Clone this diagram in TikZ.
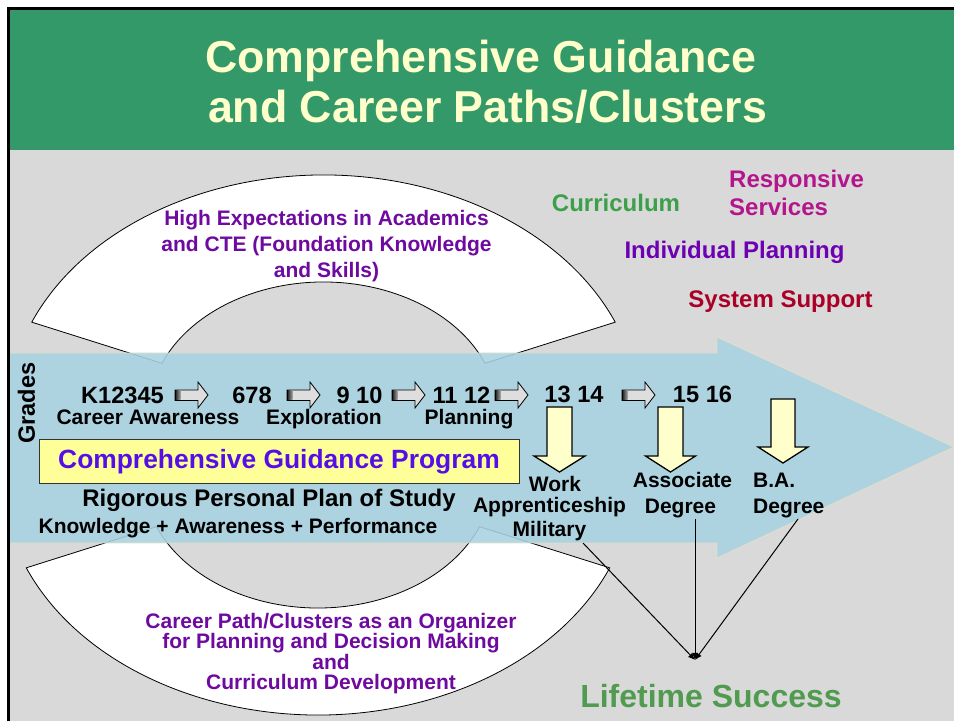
\documentclass[tikz,border=0pt]{standalone}
\usepackage{fontspec}
\setmainfont{Liberation Sans}
\usetikzlibrary{calc,arrows.meta}
\definecolor{hdrgreen}{RGB}{52,153,104}
\definecolor{titleyellow}{RGB}{255,255,204}
\definecolor{bggray}{RGB}{217,217,217}
\definecolor{bandblue}{RGB}{169,211,225}
\definecolor{bandedge}{RGB}{230,222,200}
\definecolor{arcpurple}{RGB}{110,10,160}
\definecolor{curgreen}{RGB}{60,160,75}
\definecolor{respmag}{RGB}{180,20,140}
\definecolor{indpurple}{RGB}{110,0,180}
\definecolor{sysred}{RGB}{170,0,40}
\definecolor{cgpblue}{RGB}{85,15,230}
\definecolor{boxyellow}{RGB}{255,255,153}
\definecolor{downyellow}{RGB}{255,255,204}
\definecolor{lifegreen}{RGB}{80,155,80}
\definecolor{smallgray}{RGB}{222,222,222}
\begin{document}
\begin{tikzpicture}[x=1pt,y=1pt,
  lbl/.style={inner sep=0pt,anchor=base,font=\bfseries\fontsize{21}{25}\selectfont},
  grade/.style={inner sep=0pt,anchor=base,font=\bfseries\fontsize{23.6}{28}\selectfont},
  comp/.style={inner sep=0pt,anchor=base,font=\bfseries\fontsize{24}{28}\selectfont},
  titletext/.style={inner sep=0pt,anchor=base,text=titleyellow,font=\bfseries\fontsize{44.7}{50}\selectfont},
  sectorshape/.style={fill=white,draw=black,line width=0.8pt},
  downarr/.style={fill=downyellow,draw=black,line width=1.3pt,line join=miter},
  smallarr/.style={fill=smallgray,draw=black,line width=0.8pt,line join=miter},
  conn/.style={draw=black,line width=1pt,-{Latex[length=7pt,width=6pt]}}]
\useasboundingbox (0,0) rectangle (954,721);
\fill[white] (0,0) rectangle (954,721);
% header and background
\fill[hdrgreen] (8.5,571) rectangle (954,712.5);
\fill[bggray] (8.5,0) rectangle (954,571);
\node[titletext] (t1) at (481,648) {Comprehensive Guidance};
\node[titletext] (t2) at (487.5,598) {and Career Paths/Clusters};
% block arcs
\coordinate (C1) at (323.5,307);
\coordinate (C2) at (318,245);
\filldraw[sectorshape] ($(C1)+(157.4:316pt and 239pt)$)
  arc[start angle=157.4,end angle=22.6,x radius=316pt,y radius=239pt]
  -- ($(C1)+(22.6:175pt and 132pt)$)
  arc[start angle=22.6,end angle=157.4,x radius=175pt,y radius=132pt] -- cycle;
\filldraw[sectorshape] ($(C2)+(202.6:316pt and 239pt)$)
  arc[start angle=202.6,end angle=337.4,x radius=316pt,y radius=239pt]
  -- ($(C2)+(337.4:175pt and 132pt)$)
  arc[start angle=337.4,end angle=202.6,x radius=175pt,y radius=132pt] -- cycle;
% big band arrow
\filldraw[fill=bandblue,fill opacity=0.88,draw=bandedge,line width=0.8pt]
  (9,368) -- (717,368) -- (717,384) -- (954,274) -- (717,163) -- (717,178) -- (9,178) -- cycle;
% frame lines
\draw[line width=3pt] (8.5,0) -- (8.5,712.5) -- (954,712.5);
% sector texts
\node[lbl,text=arcpurple] (he1) at (326.5,495.5) {High Expectations in Academics};
\node[lbl,text=arcpurple] (he2) at (326.5,469.5) {and CTE (Foundation Knowledge};
\node[lbl,text=arcpurple] (he3) at (326.5,443.5) {and Skills)};
\node[lbl,text=arcpurple] (cp1) at (331,92.5) {Career Path/Clusters as an Organizer};
\node[lbl,text=arcpurple] (cp2) at (331,72.5) {for Planning and Decision Making};
\node[lbl,text=arcpurple] (cp3) at (331,51.5) {and};
\node[lbl,text=arcpurple] (cp4) at (331,31.5) {Curriculum Development};
% components
\node[comp,text=curgreen] (cur) at (616,509) {Curriculum};
\node[comp,text=respmag,anchor=base west] (rs1) at (729,533) {Responsive};
\node[comp,text=respmag,anchor=base west] (rs2) at (729,505) {Services};
\node[comp,text=indpurple] (ip) at (734.5,462) {Individual Planning};
\node[comp,text=sysred] (ss) at (780.5,413) {System Support};
% grades
\node[grade,rotate=90] (gr) at (35,318) {Grades};
\node[grade] (g1) at (122.5,317) {K12345};
\node[grade] (g2) at (252,317) {678};
\node[grade] (g3) at (359.5,317) {9 10};
\node[grade] (g4) at (461.5,317) {11 12};
\node[grade] (g5) at (574,318) {13 14};
\node[grade] (g6) at (702.5,318) {15 16};
\node[lbl] (l1) at (148,296) {Career Awareness};
\node[lbl] (l2) at (324,296) {Exploration};
\node[lbl] (l3) at (469,296) {Planning};
% small right arrows
\foreach \x in {175,287,392,495,622}{
  \filldraw[smallarr] (\x,320.5) -- ({\x+23},320.5) -- ({\x+23},313) -- ({\x+33},326) -- ({\x+23},339) -- ({\x+23},331) -- (\x,331) -- cycle;
  \shade[left color=black!85,right color=gray!70] ({\x+0.5},321) rectangle ({\x+5.5},330.5);
  \draw[line width=0.8pt] (\x,320.5) -- (\x,331);
}
% guidance program box
\node[draw=black!80,line width=0.8pt,fill=boxyellow,minimum width=480pt,minimum height=44pt,inner sep=0pt] (box) at (279,260) {};
\node[inner sep=0pt,anchor=base,text=cgpblue,font=\bfseries\fontsize{26.4}{30}\selectfont] (cgp) at (279,252) {Comprehensive Guidance Program};
\node[comp] (rp) at (269,214) {Rigorous Personal Plan of Study};
\node[lbl] (kap) at (238,187) {Knowledge + Awareness + Performance};
% down arrows
\filldraw[downarr] (547,314) -- (572,314) -- (572,265) -- (585,265) -- (559.5,249) -- (534,265) -- (547,265) -- cycle;
\filldraw[downarr] (658,314) -- (683,314) -- (683,265) -- (695.5,265) -- (670.5,249) -- (645.5,265) -- (658,265) -- cycle;
\filldraw[downarr] (771,322) -- (795,322) -- (795,274) -- (808,274) -- (783,258) -- (758,274) -- (771,274) -- cycle;
% outcomes
\node[lbl] (w1) at (555,229) {Work};
\node[lbl] (w2) at (549.5,208) {Apprenticeship};
\node[lbl] (w3) at (549.5,184) {Military};
\node[lbl] (a1) at (682.5,233) {Associate};
\node[lbl] (a2) at (680.5,207) {Degree};
\node[lbl,anchor=base west] (b1) at (753,233) {B.A.};
\node[lbl,anchor=base west] (b2) at (753,207) {Degree};
% lifetime success
\coordinate (life) at (695,61);
\coordinate (milend) at (583,178);
\coordinate (ascend) at (695,202);
\coordinate (baend) at (798,202);
\draw[conn] (milend) -- (life);
\draw[conn] (ascend) -- (life);
\draw[conn] (baend) -- (life);
\node[inner sep=0pt,anchor=base,text=lifegreen,font=\bfseries\fontsize{32}{36}\selectfont] (ls) at (711,14) {Lifetime Success};
\end{tikzpicture}
\end{document}
